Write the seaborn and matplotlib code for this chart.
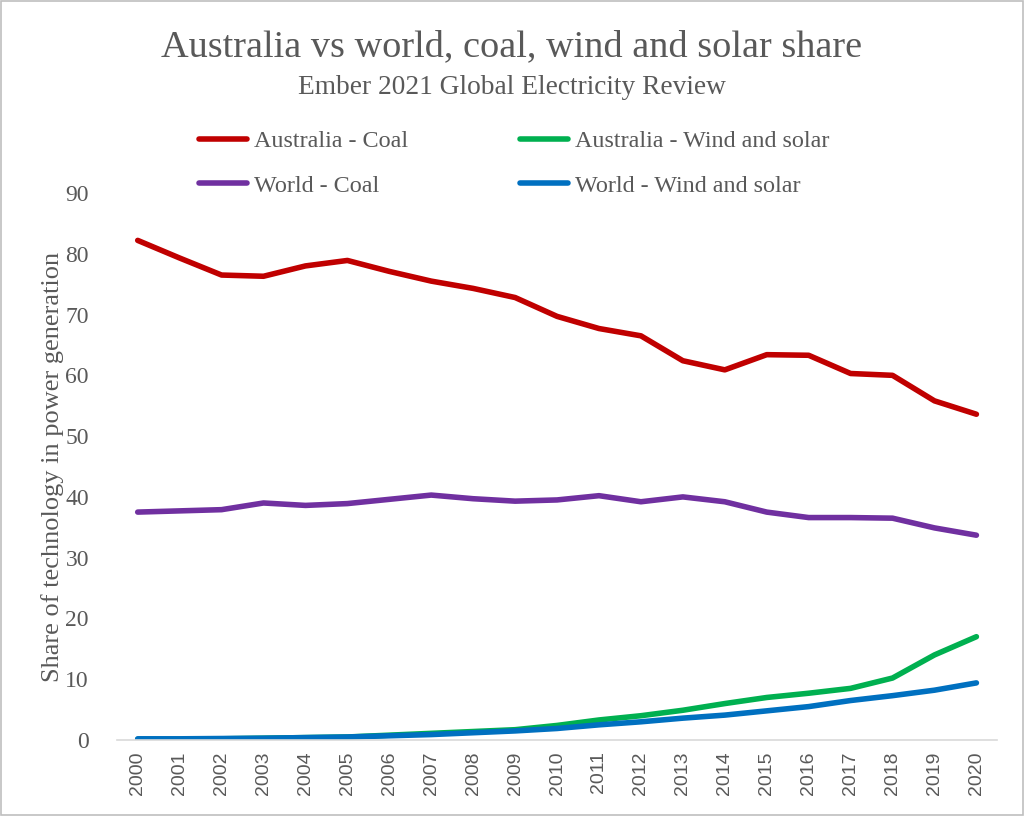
import seaborn as sns
import pandas as pd
import matplotlib.pyplot as plt
from matplotlib.patches import Rectangle

years = list(range(2000, 2021))

aus_coal = [82.2, 79.3, 76.5, 76.3, 78.0, 78.9, 77.1, 75.5, 74.3, 72.8, 69.7,
            67.7, 66.5, 62.4, 60.9, 63.4, 63.3, 60.3, 60.0, 55.8, 53.6]
world_coal = [37.5, 37.7, 37.9, 39.0, 38.6, 38.9, 39.6, 40.3, 39.7, 39.3, 39.5,
              40.2, 39.2, 40.0, 39.2, 37.5, 36.6, 36.6, 36.5, 34.9, 33.7]
aus_ws = [0.1, 0.1, 0.2, 0.3, 0.4, 0.5, 0.8, 1.1, 1.4, 1.7, 2.4,
          3.3, 4.0, 4.9, 6.0, 7.0, 7.7, 8.5, 10.2, 14.0, 17.0]
world_ws = [0.2, 0.2, 0.25, 0.3, 0.4, 0.5, 0.7, 0.9, 1.2, 1.5, 1.9,
            2.5, 3.0, 3.6, 4.1, 4.8, 5.5, 6.5, 7.3, 8.2, 9.4]

series = {
    "Australia - Coal": aus_coal,
    "World - Coal": world_coal,
    "Australia - Wind and solar": aus_ws,
    "World - Wind and solar": world_ws,
}
colors = {
    "Australia - Coal": "#C00000",
    "World - Coal": "#7030A0",
    "Australia - Wind and solar": "#00B050",
    "World - Wind and solar": "#0070C0",
}

rows = []
for name, vals in series.items():
    for y, v in zip(years, vals):
        rows.append([y, v, name])
df = pd.DataFrame(rows, columns=["Year", "Share", "Series"])

sns.set_style("white")
plt.rcParams["font.family"] = ["Liberation Serif", "DejaVu Serif"]
grey = "#595959"

fig = plt.figure(figsize=(10.24, 8.16), dpi=100)
ax = fig.add_axes([0.114, 0.0931, 0.86, 0.6704])

sns.lineplot(data=df, x="Year", y="Share", hue="Series", palette=colors,
             hue_order=list(series.keys()), linewidth=4, ax=ax,
             solid_capstyle="round", legend=False)

ax.set_xlim(1999.5, 2020.5)
ax.set_ylim(0, 90)
ax.set_xticks(years)
ax.set_xticklabels([str(y) for y in years], rotation=90,
                   fontfamily="Liberation Sans", fontsize=14, color=grey)
ax.set_yticks(range(0, 91, 10))
ax.set_yticklabels([str(v) for v in range(0, 91, 10)], fontsize=17, color=grey)
ax.tick_params(axis="x", length=0, pad=8)
ax.tick_params(axis="y", length=0, pad=20)
ax.set_xlabel("")
ax.set_ylabel("Share of technology in power generation", fontsize=19, color=grey, labelpad=1)
for s in ["top", "right", "left"]:
    ax.spines[s].set_visible(False)
ax.spines["bottom"].set_color("#d9d9d9")
ax.spines["bottom"].set_linewidth(1.2)

handles = [plt.Line2D([], [], color=colors[n], lw=4, solid_capstyle="round") for n in series]
fig.legend(handles, list(series.keys()), ncol=2, loc="center",
           bbox_to_anchor=(0.502, 0.7995), frameon=False, fontsize=17.4,
           labelcolor=grey, handlelength=2.0, handletextpad=0.3,
           columnspacing=4.6, labelspacing=0.92)

fig.text(0.5, 0.942, "Australia vs world, coal, wind and solar share",
         ha="center", va="center", fontsize=27.5, color=grey)
fig.text(0.5, 0.893, "Ember 2021 Global Electricity Review",
         ha="center", va="center", fontsize=19.7, color=grey)

fig.patches.append(Rectangle((0.001, 0.001), 0.998, 0.998, transform=fig.transFigure,
                             fill=False, edgecolor="#bfbfbf", linewidth=1.2))

fig.savefig("out.png", dpi=100)
